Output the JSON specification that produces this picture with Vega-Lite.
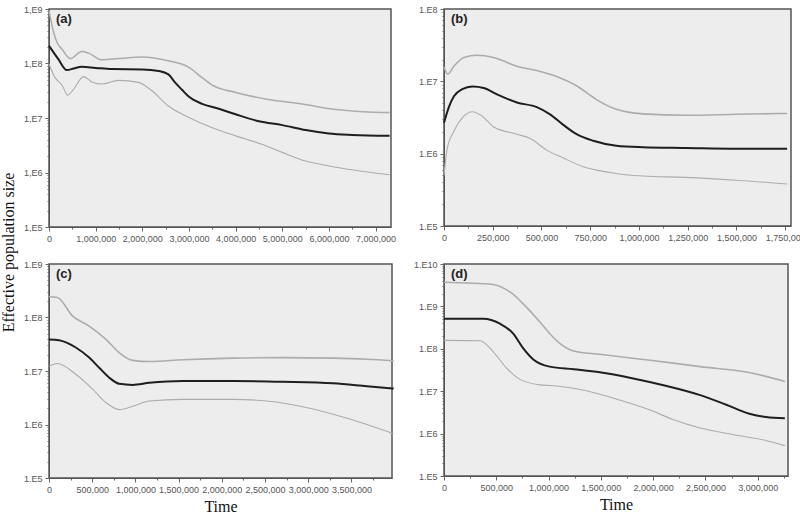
{
  "$schema": "https://vega.github.io/schema/vega-lite/v6.json",
  "padding": {"left": 0, "top": 4, "right": 0, "bottom": 0},
  "background": "white",
  "title": {"text": "Effective population size", "orient": "left", "anchor": "middle", "font": "Liberation Serif", "fontSize": 16, "fontWeight": "normal", "color": "#111", "offset": 6, "frame": "bounds"},
  "config": {
    "view": {"stroke": "#555", "strokeWidth": 1.5, "fill": "#ededed"},
    "axis": {"labelFont": "Liberation Sans", "labelFontSize": 9, "labelColor": "#555", "tickColor": "#666", "domainColor": "#555", "grid": false, "labelFlush": false, "labelOverlap": false, "labelPadding": 3, "titleFont": "Liberation Serif", "titleFontSize": 16, "titleFontWeight": "normal", "titleColor": "#111"},
    "title": {"font": "Liberation Sans", "fontSize": 13, "fontWeight": "bold", "color": "#222", "anchor": "start", "frame": "group", "baseline": "top", "offset": -21, "dx": 7},
    "line": {"interpolate": "monotone"}
  },
  "datasets": {
    "a": [
      {"t": 0, "v": 2.11e8, "s": "median"}, {"t": 200000, "v": 1.2e8, "s": "median"}, {"t": 380000, "v": 7.6e7, "s": "median"}, {"t": 530000, "v": 8.1e7, "s": "median"}, {"t": 700000, "v": 8.7e7, "s": "median"}, {"t": 1000000, "v": 8.3e7, "s": "median"}, {"t": 1350000, "v": 7.9e7, "s": "median"}, {"t": 2000000, "v": 7.8e7, "s": "median"}, {"t": 2350000, "v": 7.3e7, "s": "median"}, {"t": 2560000, "v": 6.3e7, "s": "median"}, {"t": 2700000, "v": 4.5e7, "s": "median"}, {"t": 2850000, "v": 3.3e7, "s": "median"}, {"t": 3000000, "v": 2.45e7, "s": "median"}, {"t": 3280000, "v": 1.82e7, "s": "median"}, {"t": 3640000, "v": 1.48e7, "s": "median"}, {"t": 4000000, "v": 1.17e7, "s": "median"}, {"t": 4500000, "v": 8.7e6, "s": "median"}, {"t": 5000000, "v": 7.4e6, "s": "median"}, {"t": 5500000, "v": 6.0e6, "s": "median"}, {"t": 6000000, "v": 5.2e6, "s": "median"}, {"t": 6500000, "v": 4.9e6, "s": "median"}, {"t": 7300000, "v": 4.7e6, "s": "median"},
      {"t": 0, "v": 9.3e8, "s": "upper"}, {"t": 100000, "v": 3.7e8, "s": "upper"}, {"t": 170000, "v": 2.45e8, "s": "upper"}, {"t": 280000, "v": 1.82e8, "s": "upper"}, {"t": 460000, "v": 1.23e8, "s": "upper"}, {"t": 700000, "v": 1.66e8, "s": "upper"}, {"t": 850000, "v": 1.55e8, "s": "upper"}, {"t": 1130000, "v": 1.17e8, "s": "upper"}, {"t": 1490000, "v": 1.23e8, "s": "upper"}, {"t": 2000000, "v": 1.32e8, "s": "upper"}, {"t": 2560000, "v": 1.12e8, "s": "upper"}, {"t": 3000000, "v": 8.5e7, "s": "upper"}, {"t": 3280000, "v": 5.5e7, "s": "upper"}, {"t": 3500000, "v": 4.0e7, "s": "upper"}, {"t": 4000000, "v": 2.95e7, "s": "upper"}, {"t": 4700000, "v": 2.19e7, "s": "upper"}, {"t": 5400000, "v": 1.82e7, "s": "upper"}, {"t": 6100000, "v": 1.45e7, "s": "upper"}, {"t": 6850000, "v": 1.29e7, "s": "upper"}, {"t": 7300000, "v": 1.26e7, "s": "upper"},
      {"t": 0, "v": 9.8e7, "s": "lower"}, {"t": 130000, "v": 5.5e7, "s": "lower"}, {"t": 280000, "v": 4.0e7, "s": "lower"}, {"t": 400000, "v": 2.63e7, "s": "lower"}, {"t": 530000, "v": 3.4e7, "s": "lower"}, {"t": 740000, "v": 5.75e7, "s": "lower"}, {"t": 920000, "v": 4.6e7, "s": "lower"}, {"t": 1130000, "v": 4.2e7, "s": "lower"}, {"t": 1490000, "v": 4.9e7, "s": "lower"}, {"t": 1920000, "v": 4.5e7, "s": "lower"}, {"t": 2200000, "v": 3.2e7, "s": "lower"}, {"t": 2560000, "v": 1.66e7, "s": "lower"}, {"t": 3000000, "v": 1.02e7, "s": "lower"}, {"t": 3500000, "v": 6.6e6, "s": "lower"}, {"t": 4000000, "v": 4.7e6, "s": "lower"}, {"t": 4560000, "v": 3.3e6, "s": "lower"}, {"t": 5000000, "v": 2.34e6, "s": "lower"}, {"t": 5500000, "v": 1.62e6, "s": "lower"}, {"t": 6000000, "v": 1.32e6, "s": "lower"}, {"t": 6560000, "v": 1.1e6, "s": "lower"}, {"t": 7300000, "v": 9.1e5, "s": "lower"}
    ],
    "b": [
      {"t": 0, "v": 2.67e6, "s": "median"}, {"t": 25000, "v": 4.4e6, "s": "median"}, {"t": 51000, "v": 6.2e6, "s": "median"}, {"t": 94000, "v": 7.8e6, "s": "median"}, {"t": 145000, "v": 8.5e6, "s": "median"}, {"t": 204000, "v": 8.1e6, "s": "median"}, {"t": 272000, "v": 6.6e6, "s": "median"}, {"t": 374000, "v": 5.1e6, "s": "median"}, {"t": 476000, "v": 4.4e6, "s": "median"}, {"t": 544000, "v": 3.5e6, "s": "median"}, {"t": 612000, "v": 2.5e6, "s": "median"}, {"t": 680000, "v": 1.86e6, "s": "median"}, {"t": 765000, "v": 1.51e6, "s": "median"}, {"t": 884000, "v": 1.29e6, "s": "median"}, {"t": 1020000, "v": 1.23e6, "s": "median"}, {"t": 1240000, "v": 1.2e6, "s": "median"}, {"t": 1500000, "v": 1.17e6, "s": "median"}, {"t": 1760000, "v": 1.17e6, "s": "median"},
      {"t": 0, "v": 1.58e7, "s": "upper"}, {"t": 20000, "v": 1.26e7, "s": "upper"}, {"t": 51000, "v": 1.62e7, "s": "upper"}, {"t": 102000, "v": 2.14e7, "s": "upper"}, {"t": 170000, "v": 2.29e7, "s": "upper"}, {"t": 255000, "v": 2.14e7, "s": "upper"}, {"t": 374000, "v": 1.62e7, "s": "upper"}, {"t": 476000, "v": 1.41e7, "s": "upper"}, {"t": 578000, "v": 1.17e7, "s": "upper"}, {"t": 680000, "v": 8.7e6, "s": "upper"}, {"t": 782000, "v": 5.6e6, "s": "upper"}, {"t": 884000, "v": 4.1e6, "s": "upper"}, {"t": 1020000, "v": 3.55e6, "s": "upper"}, {"t": 1240000, "v": 3.4e6, "s": "upper"}, {"t": 1500000, "v": 3.5e6, "s": "upper"}, {"t": 1760000, "v": 3.6e6, "s": "upper"},
      {"t": 0, "v": 5.0e5, "s": "lower"}, {"t": 17000, "v": 1.2e6, "s": "lower"}, {"t": 51000, "v": 2.04e6, "s": "lower"}, {"t": 102000, "v": 3.3e6, "s": "lower"}, {"t": 145000, "v": 3.8e6, "s": "lower"}, {"t": 196000, "v": 3.3e6, "s": "lower"}, {"t": 255000, "v": 2.34e6, "s": "lower"}, {"t": 374000, "v": 1.86e6, "s": "lower"}, {"t": 442000, "v": 1.62e6, "s": "lower"}, {"t": 527000, "v": 1.12e6, "s": "lower"}, {"t": 612000, "v": 8.7e5, "s": "lower"}, {"t": 714000, "v": 6.6e5, "s": "lower"}, {"t": 850000, "v": 5.5e5, "s": "lower"}, {"t": 1020000, "v": 4.9e5, "s": "lower"}, {"t": 1240000, "v": 4.7e5, "s": "lower"}, {"t": 1500000, "v": 4.3e5, "s": "lower"}, {"t": 1760000, "v": 3.8e5, "s": "lower"}
    ],
    "c": [
      {"t": 0, "v": 3.9e7, "s": "median"}, {"t": 116000, "v": 3.76e7, "s": "median"}, {"t": 310000, "v": 2.75e7, "s": "median"}, {"t": 465000, "v": 1.78e7, "s": "median"}, {"t": 581000, "v": 1.15e7, "s": "median"}, {"t": 698000, "v": 7.5e6, "s": "median"}, {"t": 814000, "v": 5.75e6, "s": "median"}, {"t": 969000, "v": 5.5e6, "s": "median"}, {"t": 1160000, "v": 6.0e6, "s": "median"}, {"t": 1550000, "v": 6.5e6, "s": "median"}, {"t": 2130000, "v": 6.5e6, "s": "median"}, {"t": 2710000, "v": 6.3e6, "s": "median"}, {"t": 3290000, "v": 5.9e6, "s": "median"}, {"t": 3680000, "v": 5.2e6, "s": "median"}, {"t": 3990000, "v": 4.7e6, "s": "median"},
      {"t": 0, "v": 2.45e8, "s": "upper"}, {"t": 97000, "v": 2.37e8, "s": "upper"}, {"t": 271000, "v": 1.07e8, "s": "upper"}, {"t": 465000, "v": 6.9e7, "s": "upper"}, {"t": 659000, "v": 3.9e7, "s": "upper"}, {"t": 814000, "v": 2.19e7, "s": "upper"}, {"t": 969000, "v": 1.58e7, "s": "upper"}, {"t": 1160000, "v": 1.5e7, "s": "upper"}, {"t": 1550000, "v": 1.62e7, "s": "upper"}, {"t": 2130000, "v": 1.74e7, "s": "upper"}, {"t": 2710000, "v": 1.78e7, "s": "upper"}, {"t": 3290000, "v": 1.74e7, "s": "upper"}, {"t": 3680000, "v": 1.66e7, "s": "upper"}, {"t": 3990000, "v": 1.55e7, "s": "upper"},
      {"t": 0, "v": 1.23e7, "s": "lower"}, {"t": 97000, "v": 1.38e7, "s": "lower"}, {"t": 310000, "v": 8.7e6, "s": "lower"}, {"t": 504000, "v": 4.6e6, "s": "lower"}, {"t": 659000, "v": 2.57e6, "s": "lower"}, {"t": 814000, "v": 1.9e6, "s": "lower"}, {"t": 969000, "v": 2.19e6, "s": "lower"}, {"t": 1160000, "v": 2.75e6, "s": "lower"}, {"t": 1550000, "v": 2.95e6, "s": "lower"}, {"t": 2130000, "v": 2.95e6, "s": "lower"}, {"t": 2520000, "v": 2.75e6, "s": "lower"}, {"t": 2910000, "v": 2.19e6, "s": "lower"}, {"t": 3290000, "v": 1.55e6, "s": "lower"}, {"t": 3680000, "v": 1.0e6, "s": "lower"}, {"t": 3990000, "v": 6.7e5, "s": "lower"}
    ],
    "d": [
      {"t": 0, "v": 5.1e8, "s": "median"}, {"t": 376000, "v": 5.1e8, "s": "median"}, {"t": 535000, "v": 3.9e8, "s": "median"}, {"t": 662000, "v": 2.29e8, "s": "median"}, {"t": 758000, "v": 1.02e8, "s": "median"}, {"t": 854000, "v": 5.6e7, "s": "median"}, {"t": 1010000, "v": 3.8e7, "s": "median"}, {"t": 1240000, "v": 3.3e7, "s": "median"}, {"t": 1490000, "v": 2.8e7, "s": "median"}, {"t": 1810000, "v": 2.0e7, "s": "median"}, {"t": 2130000, "v": 1.33e7, "s": "median"}, {"t": 2450000, "v": 8.1e6, "s": "median"}, {"t": 2700000, "v": 4.8e6, "s": "median"}, {"t": 2920000, "v": 2.95e6, "s": "median"}, {"t": 3080000, "v": 2.45e6, "s": "median"}, {"t": 3260000, "v": 2.29e6, "s": "median"},
      {"t": 0, "v": 3.7e9, "s": "upper"}, {"t": 471000, "v": 3.3e9, "s": "upper"}, {"t": 631000, "v": 2.19e9, "s": "upper"}, {"t": 790000, "v": 9.5e8, "s": "upper"}, {"t": 917000, "v": 4.3e8, "s": "upper"}, {"t": 1010000, "v": 2.29e8, "s": "upper"}, {"t": 1110000, "v": 1.33e8, "s": "upper"}, {"t": 1240000, "v": 8.9e7, "s": "upper"}, {"t": 1490000, "v": 7.4e7, "s": "upper"}, {"t": 1970000, "v": 5.4e7, "s": "upper"}, {"t": 2450000, "v": 3.8e7, "s": "upper"}, {"t": 2920000, "v": 2.75e7, "s": "upper"}, {"t": 3260000, "v": 1.7e7, "s": "upper"},
      {"t": 0, "v": 1.58e8, "s": "lower"}, {"t": 344000, "v": 1.55e8, "s": "lower"}, {"t": 471000, "v": 8.5e7, "s": "lower"}, {"t": 599000, "v": 3.5e7, "s": "lower"}, {"t": 726000, "v": 1.9e7, "s": "lower"}, {"t": 917000, "v": 1.41e7, "s": "lower"}, {"t": 1080000, "v": 1.33e7, "s": "lower"}, {"t": 1330000, "v": 1.07e7, "s": "lower"}, {"t": 1650000, "v": 6.5e6, "s": "lower"}, {"t": 1970000, "v": 3.6e6, "s": "lower"}, {"t": 2190000, "v": 2.14e6, "s": "lower"}, {"t": 2450000, "v": 1.35e6, "s": "lower"}, {"t": 2760000, "v": 9.5e5, "s": "lower"}, {"t": 3080000, "v": 6.9e5, "s": "lower"}, {"t": 3260000, "v": 5.2e5, "s": "lower"}
    ]
  },
  "columns": 2,
  "spacing": {"column": 13, "row": 15},
  "concat": [
    {
      "width": 342, "height": 218,
      "title": {"text": "(a)"},
      "data": {"name": "a"},
      "mark": {"type": "line"},
      "encoding": {
        "x": {"field": "t", "type": "quantitative", "scale": {"domain": [0, 7330000], "nice": false},
          "axis": {"title": null, "values": [0,500000,1000000,1500000,2000000,2500000,3000000,3500000,4000000,4500000,5000000,5500000,6000000,6500000,7000000],
            "labelExpr": "datum.value % 1000000 == 0 ? format(datum.value, ',') : ''",
            "tickSize": {"condition": {"test": "datum.value % 1000000 == 0", "value": 4}, "value": 2}}},
        "y": {"field": "v", "type": "quantitative", "scale": {"type": "log", "domain": [1e5, 1e9], "nice": false},
          "axis": {"title": null, "values": [1e5,2e5,3e5,4e5,5e5,6e5,7e5,8e5,9e5,1e6,2e6,3e6,4e6,5e6,6e6,7e6,8e6,9e6,1e7,2e7,3e7,4e7,5e7,6e7,7e7,8e7,9e7,1e8,2e8,3e8,4e8,5e8,6e8,7e8,8e8,9e8,1e9],
            "labelExpr": "abs(log(datum.value)/LN10 - round(log(datum.value)/LN10)) < 0.001 ? '1,E' + round(log(datum.value)/LN10) : ''",
            "tickSize": {"condition": {"test": "abs(log(datum.value)/LN10 - round(log(datum.value)/LN10)) < 0.001", "value": 4}, "value": 2}}},
        "color": {"field": "s", "type": "nominal", "legend": null, "scale": {"domain": ["median", "upper", "lower"], "range": ["#1e1e1e", "#acacac", "#acacac"]}},
        "strokeWidth": {"field": "s", "type": "nominal", "legend": null, "scale": {"domain": ["median", "upper", "lower"], "range": [2, 1.1, 1.1]}}
      }
    },
    {
      "width": 347, "height": 217,
      "title": {"text": "(b)"},
      "data": {"name": "b"},
      "mark": {"type": "line"},
      "encoding": {
        "x": {"field": "t", "type": "quantitative", "scale": {"domain": [0, 1780000], "nice": false},
          "axis": {"title": null, "values": [0,125000,250000,375000,500000,625000,750000,875000,1000000,1125000,1250000,1375000,1500000,1625000,1750000],
            "labelExpr": "datum.value % 250000 == 0 ? format(datum.value, ',') : ''",
            "tickSize": {"condition": {"test": "datum.value % 250000 == 0", "value": 4}, "value": 2}}},
        "y": {"field": "v", "type": "quantitative", "scale": {"type": "log", "domain": [1e5, 1e8], "nice": false},
          "axis": {"title": null, "values": [1e5,2e5,3e5,4e5,5e5,6e5,7e5,8e5,9e5,1e6,2e6,3e6,4e6,5e6,6e6,7e6,8e6,9e6,1e7,2e7,3e7,4e7,5e7,6e7,7e7,8e7,9e7,1e8],
            "labelExpr": "abs(log(datum.value)/LN10 - round(log(datum.value)/LN10)) < 0.001 ? '1.E' + round(log(datum.value)/LN10) : ''",
            "tickSize": {"condition": {"test": "abs(log(datum.value)/LN10 - round(log(datum.value)/LN10)) < 0.001", "value": 4}, "value": 2}}},
        "color": {"field": "s", "type": "nominal", "legend": null, "scale": {"domain": ["median", "upper", "lower"], "range": ["#1e1e1e", "#acacac", "#acacac"]}},
        "strokeWidth": {"field": "s", "type": "nominal", "legend": null, "scale": {"domain": ["median", "upper", "lower"], "range": [2, 1.1, 1.1]}}
      }
    },
    {
      "width": 343, "height": 214,
      "title": {"text": "(c)"},
      "data": {"name": "c"},
      "mark": {"type": "line"},
      "encoding": {
        "x": {"field": "t", "type": "quantitative", "scale": {"domain": [0, 3970000], "nice": false},
          "axis": {"title": "Time", "values": [0,250000,500000,750000,1000000,1250000,1500000,1750000,2000000,2250000,2500000,2750000,3000000,3250000,3500000,3750000],
            "labelExpr": "datum.value % 500000 == 0 ? format(datum.value, ',') : ''",
            "tickSize": {"condition": {"test": "datum.value % 500000 == 0", "value": 4}, "value": 2}}},
        "y": {"field": "v", "type": "quantitative", "scale": {"type": "log", "domain": [1e5, 1e9], "nice": false},
          "axis": {"title": null, "values": [1e5,2e5,3e5,4e5,5e5,6e5,7e5,8e5,9e5,1e6,2e6,3e6,4e6,5e6,6e6,7e6,8e6,9e6,1e7,2e7,3e7,4e7,5e7,6e7,7e7,8e7,9e7,1e8,2e8,3e8,4e8,5e8,6e8,7e8,8e8,9e8,1e9],
            "labelExpr": "abs(log(datum.value)/LN10 - round(log(datum.value)/LN10)) < 0.001 ? '1.E' + round(log(datum.value)/LN10) : ''",
            "tickSize": {"condition": {"test": "abs(log(datum.value)/LN10 - round(log(datum.value)/LN10)) < 0.001", "value": 4}, "value": 2}}},
        "color": {"field": "s", "type": "nominal", "legend": null, "scale": {"domain": ["median", "upper", "lower"], "range": ["#1e1e1e", "#acacac", "#acacac"]}},
        "strokeWidth": {"field": "s", "type": "nominal", "legend": null, "scale": {"domain": ["median", "upper", "lower"], "range": [2, 1.1, 1.1]}}
      }
    },
    {
      "width": 344, "height": 212,
      "title": {"text": "(d)"},
      "data": {"name": "d"},
      "mark": {"type": "line"},
      "encoding": {
        "x": {"field": "t", "type": "quantitative", "scale": {"domain": [0, 3290000], "nice": false},
          "axis": {"title": "Time", "values": [0,250000,500000,750000,1000000,1250000,1500000,1750000,2000000,2250000,2500000,2750000,3000000,3250000],
            "labelExpr": "datum.value % 500000 == 0 ? format(datum.value, ',') : ''",
            "tickSize": {"condition": {"test": "datum.value % 500000 == 0", "value": 4}, "value": 2}}},
        "y": {"field": "v", "type": "quantitative", "scale": {"type": "log", "domain": [1e5, 1e10], "nice": false},
          "axis": {"title": null, "values": [1e5,2e5,3e5,4e5,5e5,6e5,7e5,8e5,9e5,1e6,2e6,3e6,4e6,5e6,6e6,7e6,8e6,9e6,1e7,2e7,3e7,4e7,5e7,6e7,7e7,8e7,9e7,1e8,2e8,3e8,4e8,5e8,6e8,7e8,8e8,9e8,1e9,2e9,3e9,4e9,5e9,6e9,7e9,8e9,9e9,1e10],
            "labelExpr": "abs(log(datum.value)/LN10 - round(log(datum.value)/LN10)) < 0.001 ? '1.E' + round(log(datum.value)/LN10) : ''",
            "tickSize": {"condition": {"test": "abs(log(datum.value)/LN10 - round(log(datum.value)/LN10)) < 0.001", "value": 4}, "value": 2}}},
        "color": {"field": "s", "type": "nominal", "legend": null, "scale": {"domain": ["median", "upper", "lower"], "range": ["#1e1e1e", "#acacac", "#acacac"]}},
        "strokeWidth": {"field": "s", "type": "nominal", "legend": null, "scale": {"domain": ["median", "upper", "lower"], "range": [2, 1.1, 1.1]}}
      }
    }
  ]
}
